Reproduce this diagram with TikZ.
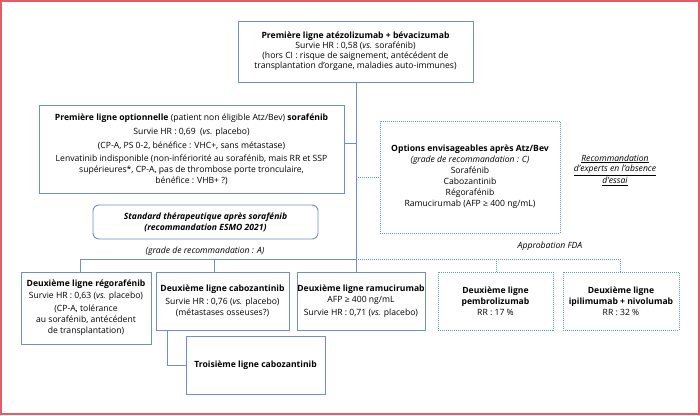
\documentclass[tikz,border=0pt]{standalone}
\usepackage{fontspec}
\setmainfont{Open Sans}
\begin{document}
\begin{tikzpicture}[x=1pt,y=-1pt,
  every node/.style={font=\fontsize{8.6}{11}\selectfont, align=center, inner sep=0pt},
  box/.style={draw=boxblue, line width=0.9pt, fill=white},
  dotbox/.style={draw=dotblue, line width=0.9pt, dash pattern=on 1pt off 1pt, fill=white},
  link/.style={draw=boxblue, line width=0.9pt},
  dlink/.style={draw=dotblue, line width=0.9pt, dash pattern=on 1pt off 1pt},
  note/.style={font=\fontsize{8.6}{10.5}\selectfont\itshape}
]
\definecolor{boxblue}{HTML}{6F8FCB}
\definecolor{dotblue}{HTML}{5B9BD5}
\definecolor{framered}{HTML}{E85B66}
\useasboundingbox (0,0) rectangle (700,415);
\draw[framered, line width=2pt] (1,1) rectangle (699,414);

\node[box, minimum width=235pt, minimum height=61pt, font=\fontsize{8.6}{10}\selectfont] (top) at (355.5,51.5)
 {\textbf{Première ligne atézolizumab + bévacizumab}\\Survie HR : 0,58 (\textit{vs.} sorafénib)\\(hors CI : risque de saignement, antécédent de\\transplantation d’organe, maladies auto-immunes)};

\node[box, minimum width=305pt, minimum height=88pt] (opt) at (191.5,149)
 {\textbf{Première ligne optionnelle} (patient non éligible Atz/Bev) \textbf{sorafénib}\\[3pt]Survie HR : 0,69\ \ (\textit{vs.} placebo)\\[3pt](CP-A, PS 0-2, bénéfice : VHC+, sans métastase)\\[2pt]Lenvatinib indisponible (non-infériorité au sorafénib, mais RR et SSP\\supérieures*, CP-A, pas de thrombose porte tronculaire,\\bénéfice : VHB+ ?)};

\node[dotbox, minimum width=180pt, minimum height=112pt] (options) at (470,177)
 {\textbf{Options envisageables après Atz/Bev}\\\textit{(grade de recommandation : C)}\\Sorafénib\\Cabozantinib\\Régorafénib\\Ramucirumab (AFP ≥ 400 ng/mL)};

\node[note] (reco) at (615,170) {\underline{Recommandation}\\\underline{d’experts en l’absence}\\\underline{d’essai}};

\node[box, rounded corners=6pt, minimum width=225pt, minimum height=34pt] (std) at (205.5,222)
 {\textbf{\textit{Standard thérapeutique après sorafénib}}\\\textbf{\textit{(recommandation ESMO 2021)}}};
\node[note] (gradeA) at (205,251) {(grade de recommandation : A)};
\node[note] (fda) at (550,246) {Approbation FDA};

\node[box, minimum width=130pt, minimum height=72pt] (b1) at (86,308)
 {\textbf{Deuxième ligne régorafénib}\\[1pt]Survie HR : 0,63 (\textit{vs.} placebo)\\[2pt](CP-A, tolérance\\au sorafénib, antécédent\\de transplantation)};
\node[box, minimum width=133pt, minimum height=58pt] (b2) at (222.5,301)
 {\textbf{Deuxième ligne cabozantinib}\\[2pt]Survie HR : 0,76 (\textit{vs.} placebo)\\(métastases osseuses?)};
\node[box, minimum width=128pt, minimum height=58pt] (b3) at (361,301)
 {\textbf{Deuxième ligne ramucirumab}\\AFP ≥ 400 ng/mL\\[2pt]Survie HR : 0,71 (\textit{vs.} placebo)};
\node[dotbox, minimum width=115pt, minimum height=58pt] (b4) at (495.5,301)
 {\textbf{Deuxième ligne}\\\textbf{pembrolizumab}\\RR : 17 \%};
\node[dotbox, minimum width=116pt, minimum height=58pt] (b5) at (621,301)
 {\textbf{Deuxième ligne}\\\textbf{ipilimumab + nivolumab}\\RR : 32 \%};
\node[box, minimum width=139pt, minimum height=58pt] (b6) at (255.5,365)
 {\textbf{Troisième ligne cabozantinib}};

% connectors
\coordinate (v1) at (356,143);
\coordinate (v2) at (356,177);
\coordinate (h) at (356,259);
\coordinate (hl) at (80,259);
\coordinate (hm) at (214,259);
\coordinate (hr) at (620,259);
\coordinate (hd) at (496,259);
\coordinate (c6) at (167,365);

\draw[link] (top.south -| h) -- (b3.north -| h);
\draw[link] (opt.east |- v1) -- (v1);
\draw[dlink] (v2) -- (options.west |- v2);
\draw[link] (h) -- (hl) -- (b1.north -| hl);
\draw[link] (hm) -- (b2.north -| hm);
\draw[dlink] (h) -- (hr) -- (b5.north -| hr);
\draw[dlink] (hd) -- (b4.north -| hd);
\draw[link] (b2.south -| c6) -- (c6) -- (b6.west |- c6);
\end{tikzpicture}
\end{document}
